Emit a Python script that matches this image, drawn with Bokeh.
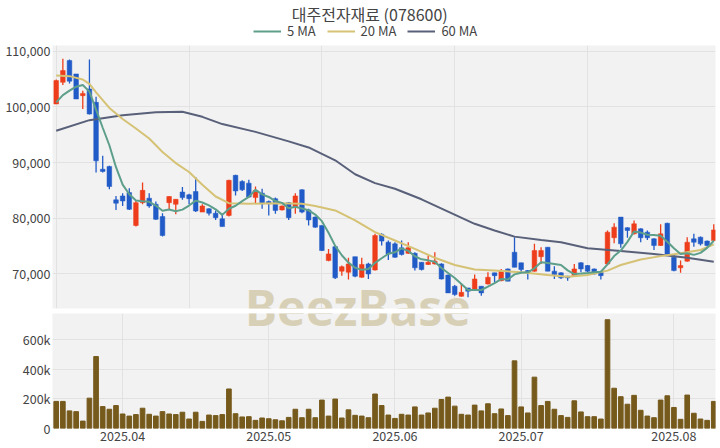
import numpy as np
import pandas as pd
from bokeh.plotting import figure
from bokeh.layouts import column
from bokeh.models import (ColumnDataSource, Range1d, FixedTicker, NumeralTickFormatter,
                          Legend, LegendItem, Label)
from bokeh.embed import file_html
from bokeh.resources import INLINE

title_text = "대주전자재료 (078600)"
month_ticks = [10, 32, 51, 70, 93]
month_labels = ["2025.04", "2025.05", "2025.06", "2025.07", "2025.08"]
price_ticks = [70000, 80000, 90000, 100000, 110000]
volume_ticks = [0, 200000, 400000, 600000]
price_grid_x = [0, 20, 40, 60, 80]

opens = [100500, 104400, 108300, 105900, 102000, 103200, 100800, 88800, 89300, 83300,
         84000, 84600, 78700, 82800, 83600, 82500, 80300, 82800, 82500, 84700,
         84200, 84800, 81100, 81700, 80900, 79900, 80500, 87700, 86600, 86300,
         83700, 84500, 83000, 83500, 81500, 82800, 82100, 85100, 81500, 80200,
         78700, 72400, 74900, 70500, 70300, 73100, 69400, 71800, 70700, 77100,
         75700, 75400, 74700, 73700, 73700, 72100, 71700, 71800, 71800, 69800,
         67800, 66000, 67500, 67200, 67800, 68200, 70200, 68800, 70900, 73900,
         72000, 70600, 70500, 73100, 74800, 70500, 70200, 69600, 69700, 72000,
         71500, 70900, 70300, 71800, 76500, 80200, 78300, 77200, 78100, 77500,
         76300, 75100, 79100, 73000, 71100, 72300, 76300, 76600, 75900, 76000]
highs = [104900, 108600, 108500, 105900, 102900, 108500, 101800, 91200, 89400, 84000,
         84500, 85400, 83100, 86400, 84500, 83000, 80900, 84000, 83400, 85600,
         84400, 87400, 82500, 81800, 81400, 80800, 86900, 87800, 86800, 86900,
         85700, 85300, 83200, 83700, 82300, 82900, 84500, 85200, 81700, 80300,
         78700, 74500, 75100, 71500, 72900, 73100, 72900, 72000, 77200, 77300,
         76000, 75700, 76000, 75700, 73900, 72100, 73300, 73900, 71900, 69900,
         68000, 68200, 67500, 69900, 67800, 70300, 70200, 70900, 71000, 76600,
         72000, 70700, 75400, 74800, 74800, 71400, 70300, 69700, 71800, 72100,
         71600, 71000, 70400, 77800, 79100, 80200, 78400, 79600, 78200, 77800,
         76400, 78900, 79200, 73500, 72400, 76600, 77200, 76700, 76000, 78900]
lows = [100500, 103900, 104200, 101400, 99600, 98600, 88200, 88200, 85200, 81500,
        82200, 81500, 78500, 82500, 81900, 79700, 76700, 81600, 80700, 83300,
        82500, 81100, 81100, 80500, 79700, 78500, 80300, 84100, 84900, 83700,
        82600, 81700, 80500, 80800, 81400, 79700, 80800, 80900, 78700, 78300,
        74100, 72300, 69100, 69700, 69000, 69400, 69300, 69100, 70600, 75100,
        72500, 72900, 73300, 73600, 70600, 70600, 71600, 71700, 69000, 66600,
        66100, 65900, 65800, 67000, 66100, 68100, 68500, 68700, 68700, 71200,
        70300, 69000, 70400, 71800, 70500, 69100, 69100, 68800, 69600, 70300,
        70300, 69900, 69000, 71700, 75500, 74700, 76500, 77100, 75700, 76100,
        74300, 75000, 73300, 70500, 70200, 72200, 74900, 75100, 74900, 75900]
closes = [104700, 106500, 104600, 101400, 102400, 98700, 90300, 88400, 85700, 82700,
          83100, 81600, 82800, 85000, 82200, 79800, 76900, 83900, 83400, 83700,
          83500, 81300, 82200, 80900, 80100, 78500, 86800, 84900, 85100, 83800,
          85000, 82600, 82600, 81400, 82200, 80100, 84000, 81100, 79700, 78400,
          74200, 73600, 69300, 71300, 71800, 69600, 71700, 70000, 76900, 75900,
          73600, 73000, 73500, 74700, 71100, 70800, 72100, 72300, 69100, 66600,
          66300, 66700, 66900, 69100, 66600, 69400, 69700, 70600, 68700, 71200,
          70800, 70200, 74200, 74200, 70500, 69900, 69300, 69300, 70900, 70900,
          70500, 70000, 69700, 77500, 78400, 75400, 77800, 79000, 76500, 76500,
          75100, 77200, 73600, 70600, 71500, 75700, 75700, 75400, 75100, 77900]
volumes = [183000, 183000, 119000, 114000, 50000, 205000, 486000, 148000, 130000, 155000,
           98000, 84000, 94000, 137000, 96000, 84000, 114000, 98000, 94000, 110000,
           64000, 110000, 48000, 91000, 87000, 94000, 267000, 100000, 78000, 80000,
           55000, 71000, 66000, 59000, 52000, 75000, 130000, 73000, 130000, 73000,
           192000, 84000, 199000, 71000, 126000, 89000, 84000, 73000, 233000, 155000,
           91000, 68000, 96000, 91000, 146000, 91000, 105000, 137000, 196000, 212000,
           151000, 96000, 91000, 158000, 119000, 167000, 100000, 132000, 87000, 457000,
           146000, 105000, 347000, 155000, 183000, 130000, 87000, 75000, 187000, 112000,
           80000, 80000, 64000, 735000, 272000, 215000, 164000, 224000, 123000, 84000,
           73000, 192000, 221000, 142000, 62000, 226000, 103000, 64000, 55000, 183000]

# 5 MA: first four values (which depend on earlier sessions)
ma5_head = [100800, 102100, 102900, 103600]
# 20 MA and 60 MA at these sessions
ma20_x = [0, 2, 4, 5, 6, 8, 10, 12, 14, 16, 18, 20, 22, 24, 26, 29, 33, 37, 39, 42,
          45, 48, 51, 54, 57, 60, 63, 66, 70, 74, 77, 80, 83, 85, 88, 91, 94, 97, 99]
ma20_y = [105600, 105500, 104900, 104100, 102600, 99800, 97800, 96100, 94300, 91900,
          89900, 88300, 86000, 83900, 82700, 82600, 82700, 82600, 82200, 81400,
          79600, 77500, 76000, 74500, 72900, 71600, 70800, 70600, 70300, 69800,
          69500, 69800, 70600, 71600, 72600, 73200, 73700, 74300, 75300]
ma60_x = [0, 5, 10, 15, 19, 22, 25, 30, 35, 38, 42, 45, 48, 51, 55, 59, 63, 66, 69,
          73, 76, 80, 85, 90, 95, 99]
ma60_y = [95700, 97600, 98500, 99000, 99100, 98200, 96900, 95500, 93800, 92700, 90400,
          87900, 86300, 85300, 83400, 81200, 79000, 77800, 76700, 76100, 75700, 74600,
          74100, 73600, 72900, 72200]

UP = "#EE3D1B"
DOWN = "#215BC7"
VOL = "#765A1C"
C5 = "#5E9F8B"
C20 = "#D5C274"
C60 = "#596079"
BG = "#F2F2F2"
GRID = "#E2E2E2"
TXT = "#444444"
FONT = "Noto Sans CJK KR"
W = 720
BL, BR = 52, 5

n = len(closes)
xs = np.arange(n)
o = np.array(opens, dtype=float)
c = np.array(closes, dtype=float)
colors = [UP if cc >= oo else DOWN for oo, cc in zip(o, c)]
src = ColumnDataSource(dict(x=xs, open=o, close=c, high=highs, low=lows,
                            top=np.maximum(o, c), bottom=np.minimum(o, c),
                            color=colors, volume=volumes))

ma5 = pd.Series(c).rolling(5).mean().to_numpy()
ma5[:4] = ma5_head

xr = Range1d(-0.56, 99.26)

# ---------- header: title + legend ----------
HH = 42
p0 = figure(width=W, height=HH, x_range=xr, y_range=Range1d(0, HH),
            x_axis_location=None, y_axis_location=None, output_backend="svg",
            toolbar_location=None, min_border_left=BL, min_border_right=BR,
            min_border_top=0, min_border_bottom=0)
p0.grid.visible = False
p0.outline_line_color = None
p0.background_fill_color = "white"
p0.border_fill_color = "white"
p0.add_layout(Label(x=47.2, y=HH - 13, text=title_text, text_align="center",
                    text_baseline="middle", text_font=FONT, text_font_size="16px",
                    text_color=TXT))
g5 = p0.line(xs, ma5, line_color=C5, line_width=2)
g20 = p0.line(ma20_x, ma20_y, line_color=C20, line_width=2)
g60 = p0.line(ma60_x, ma60_y, line_color=C60, line_width=2)
legend = Legend(items=[LegendItem(label="5 MA", renderers=[g5]),
                       LegendItem(label="20 MA", renderers=[g20]),
                       LegendItem(label="60 MA", renderers=[g60])],
                orientation="horizontal", location=(201, 2))
legend.label_text_font_size = "13px"
legend.label_text_color = TXT
legend.label_text_font = FONT
legend.glyph_width = 28
legend.glyph_height = 16
legend.label_height = 16
legend.label_standoff = 6
legend.spacing = 11
legend.padding = 0
legend.margin = 0
legend.border_line_color = None
legend.background_fill_alpha = 0
p0.add_layout(legend)

# ---------- price panel ----------
p1 = figure(width=W, height=268, x_range=xr, y_range=Range1d(63800, 111000),
            output_backend="svg", toolbar_location=None,
            min_border_left=BL, min_border_right=BR, min_border_top=3, min_border_bottom=2)
p1.background_fill_color = BG
p1.border_fill_color = "white"
p1.outline_line_color = None

p1.segment(x0="x", y0="high", x1="x", y1="low", line_color="color", line_width=1.3, source=src)
p1.vbar(x="x", width=0.7, top="top", bottom="bottom", fill_color="color",
        line_color="color", line_width=0.5, source=src)

p1.line(ma60_x, ma60_y, line_color=C60, line_width=2)
p1.line(ma20_x, ma20_y, line_color=C20, line_width=2)
p1.line(xs, ma5, line_color=C5, line_width=2)

p1.xaxis.visible = False
p1.xgrid.ticker = FixedTicker(ticks=price_grid_x)
p1.yaxis.ticker = FixedTicker(ticks=price_ticks)
p1.yaxis.formatter = NumeralTickFormatter(format="0,0")

# ---------- volume panel ----------
p2 = figure(width=W, height=138, x_range=xr, y_range=Range1d(0, 777000),
            output_backend="svg", toolbar_location=None,
            min_border_left=BL, min_border_right=BR, min_border_top=3, min_border_bottom=20)
p2.background_fill_color = BG
p2.border_fill_color = "white"
p2.outline_line_color = None
p2.vbar(x="x", width=0.7, top="volume", bottom=0, fill_color=VOL, line_color=VOL, source=src)

p2.yaxis.ticker = FixedTicker(ticks=volume_ticks)
p2.yaxis.formatter = NumeralTickFormatter(format="0a")
p2.xaxis.ticker = FixedTicker(ticks=month_ticks)
p2.xaxis.major_label_overrides = {t: l for t, l in zip(month_ticks, month_labels)}

for ax in (p1.yaxis[0], p2.yaxis[0], p2.xaxis[0]):
    ax.axis_line_color = None
    ax.major_tick_line_color = None
    ax.minor_tick_line_color = None
    ax.major_tick_out = 0
    ax.major_tick_in = 0
    ax.minor_tick_out = 0
    ax.minor_tick_in = 0
    ax.major_label_text_font_size = "12.5px"
    ax.major_label_text_color = TXT
    ax.major_label_text_font = FONT
    ax.major_label_standoff = 2
for g in (p1.xgrid, p1.ygrid, p2.xgrid, p2.ygrid):
    g.grid_line_color = GRID

# watermark straddling the two panels: each panel draws its own part of it
wm_kw = dict(x=45.44, text="BeezBase", text_align="center", text_baseline="middle",
             text_font="Noto Sans", text_font_size="48px", text_font_style="bold",
             text_color="#D8D0B6")
p1.add_layout(Label(y=64070, **wm_kw))
p2.add_layout(Label(y=820900, **wm_kw))

layout = column(p0, p1, p2)
open("out.html", "w").write(file_html(layout, INLINE, title=title_text))
